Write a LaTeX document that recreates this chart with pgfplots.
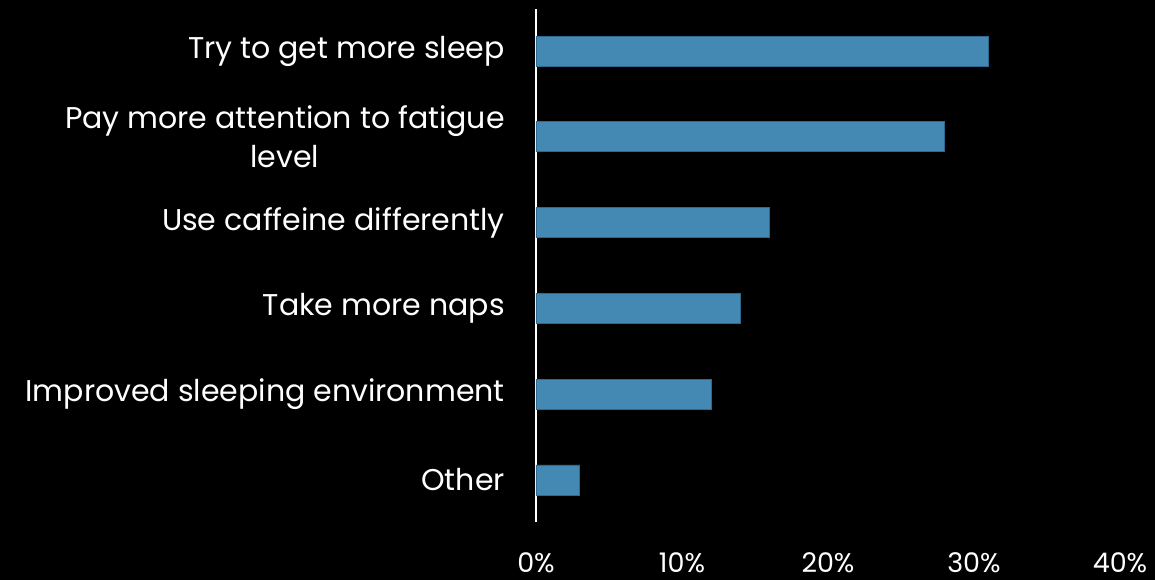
\documentclass[border=0pt]{standalone}
\usepackage{pgfplots}
\pgfplotsset{compat=1.18}
\usepackage{fontspec}
\setmainfont{Poppins}
\definecolor{barfill}{HTML}{4389B4}
\definecolor{baredge}{HTML}{2E6A90}
\begin{document}
\begin{tikzpicture}
\fill[black] (-536pt,-58pt) rectangle (619pt,522pt);
\begin{axis}[
  at={(0pt,0pt)}, anchor=south west,
  scale only axis, width=584pt, height=513pt,
  xbar, bar width=30pt,
  xmin=0, xmax=40, ymin=-0.49, ymax=5.49,
  axis y line*=left, axis x line*=bottom,
  x axis line style={draw=none},
  y axis line style={white, line width=1.5pt, -},
  xtick={0,10,20,30,40},
  xticklabels={0\%,10\%,20\%,30\%,40\%},
  ytick={0,1,2,3,4,5},
  yticklabels={Other, Improved sleeping environment, Take more naps, Use caffeine differently, {Pay more attention to fatigue\\level}, Try to get more sleep},
  major tick length=0pt,
  xticklabel style={anchor=base, inner sep=0pt, text depth=0pt, yshift=-50pt, font=\fontsize{27}{32}\selectfont, text=white},
  yticklabel style={anchor=east, inner sep=0pt, xshift=-31pt, align=center, font=\fontsize{30}{39}\selectfont, text=white},
]
\addplot[fill=barfill, draw=baredge, line width=0.8pt] coordinates {(3,0) (12,1) (14,2) (16,3) (28,4) (31,5)};
\end{axis}
\pgfresetboundingbox
\path (-536pt,-58pt) rectangle (619pt,522pt);
\end{tikzpicture}
\end{document}
